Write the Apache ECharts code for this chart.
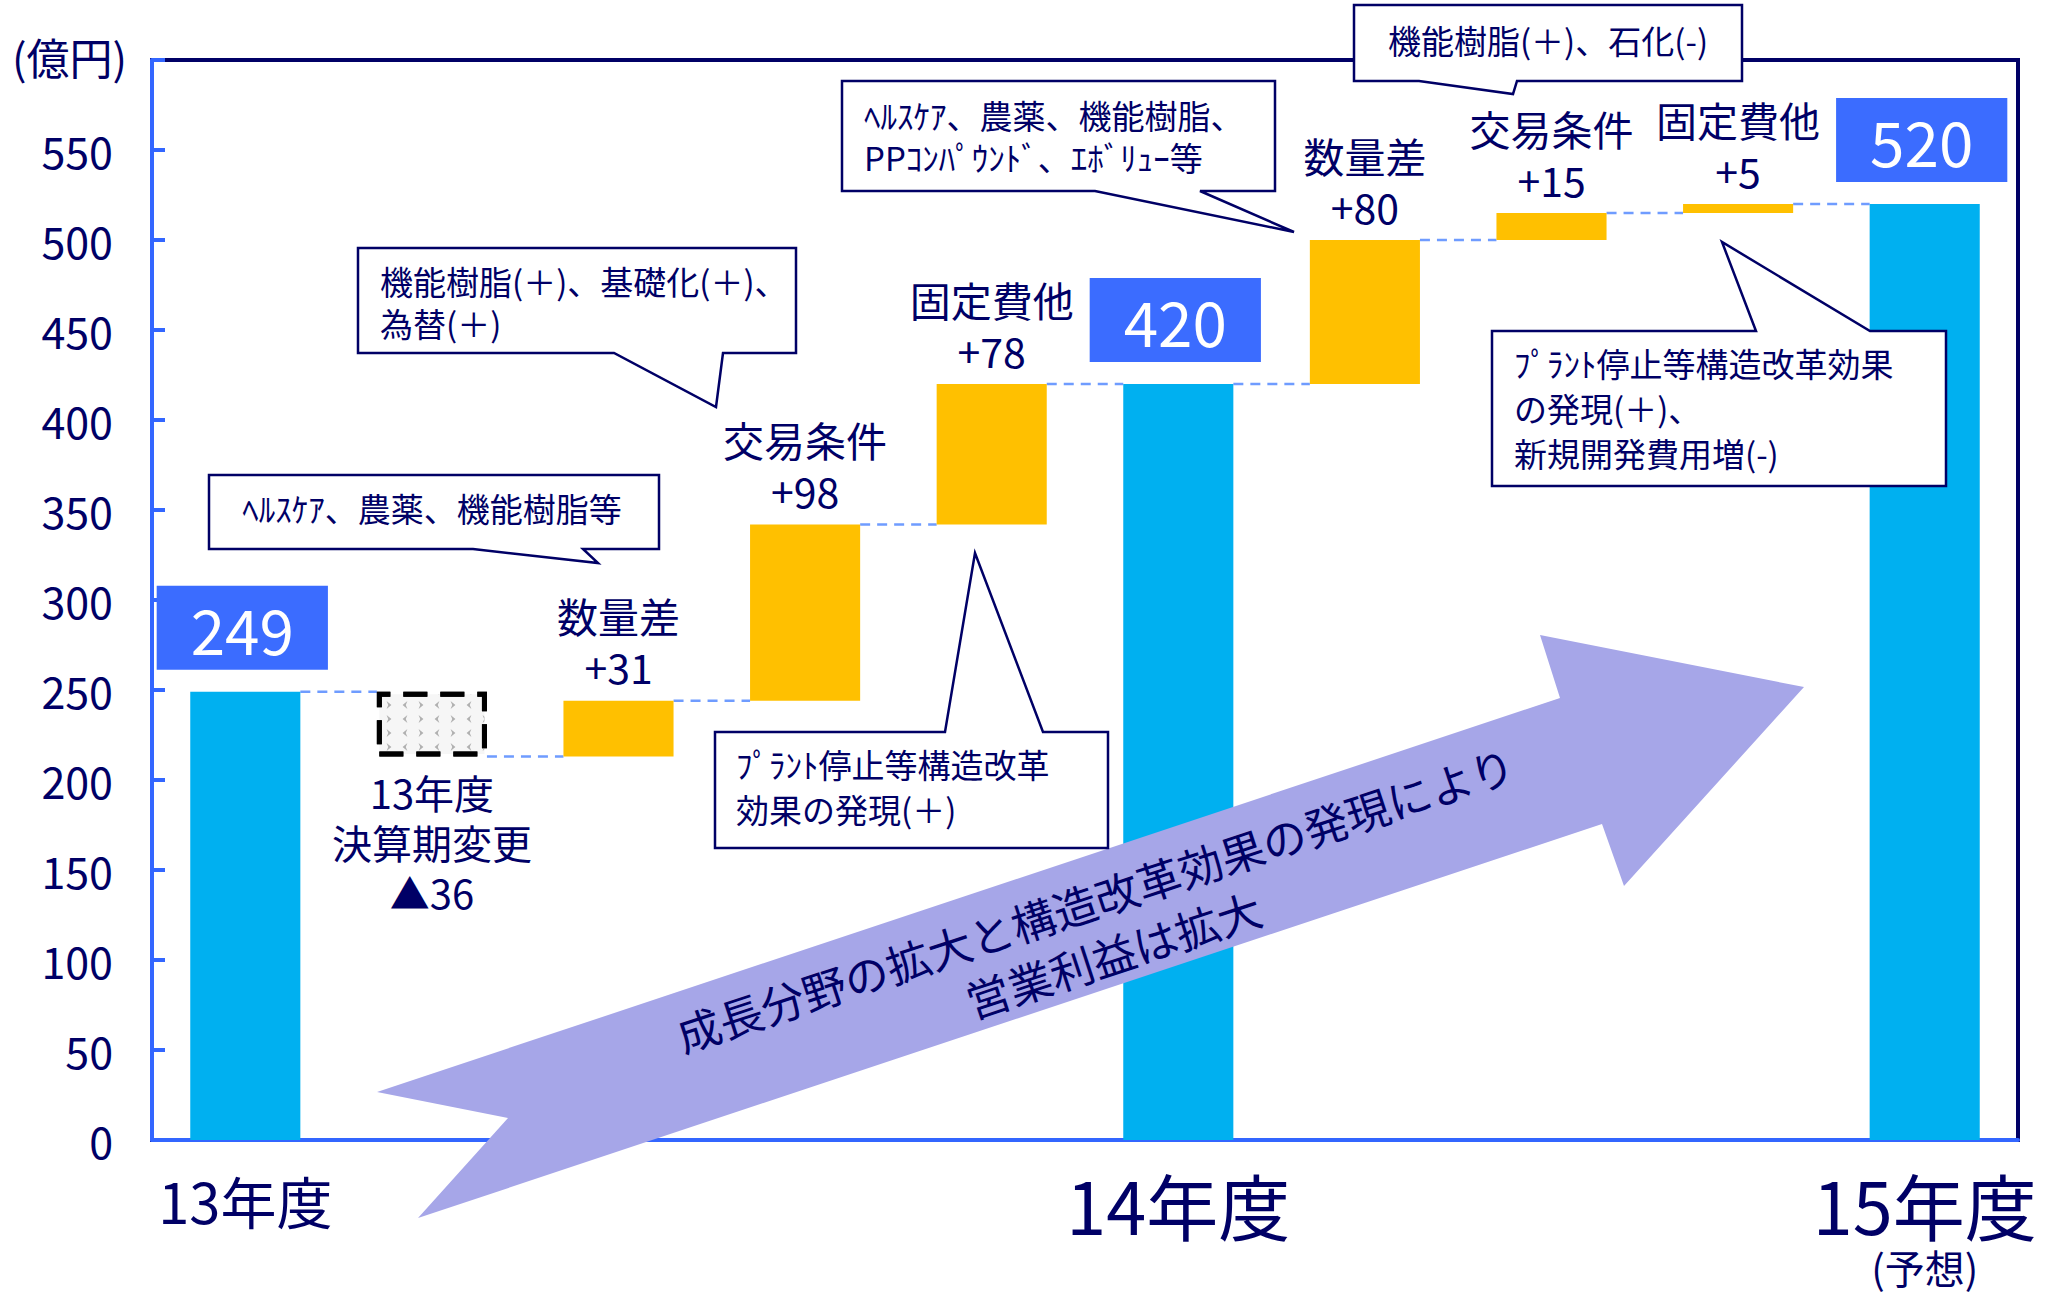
<!DOCTYPE html>
<html><head><meta charset="utf-8">
<script src="https://cdn.jsdelivr.net/npm/echarts@6/dist/echarts.min.js"></script>
<style>html,body{margin:0;padding:0;background:#fff;}#c{width:2047px;height:1296px;}</style>
</head><body><div id="c"></div>
<script>
// ---------- data ----------
const categories = ['13年度', '決算期変更', '数量差14', '交易条件14', '固定費他14', '14年度', '数量差15', '交易条件15', '固定費他15', '15年度'];
const stepKinds  = ['total', 'decrease', 'increase', 'increase', 'increase', 'total', 'increase', 'increase', 'increase', 'total'];
const stepValues = [249, -36, 31, 98, 78, 420, 80, 15, 5, 520];
const stepNames  = ['', '13年度\n決算期変更', '数量差', '交易条件', '固定費他', '', '数量差', '交易条件', '固定費他', ''];
const xTickLabels = ['13年度', '', '', '', '', '14年度', '', '', '', '15年度'];
const xTickNotes  = ['', '', '', '', '', '', '', '', '', '(予想)'];
const yMin = 0, yMax = 600, yStep = 50;
const yUnit = '(億円)';
const calloutTexts = [
  'ﾍﾙｽｹｱ、農薬、機能樹脂等',
  '機能樹脂(＋)、基礎化(＋)、\n為替(＋)',
  'ﾍﾙｽｹｱ、農薬、機能樹脂、\nPPｺﾝﾊﾟｳﾝﾄﾞ、ｴﾎﾞﾘｭｰ等',
  '機能樹脂(＋)、石化(-)',
  'ﾌﾟﾗﾝﾄ停止等構造改革\n効果の発現(＋)',
  'ﾌﾟﾗﾝﾄ停止等構造改革効果\nの発現(＋)、\n新規開発費用増(-)'
];
const arrowText = '成長分野の拡大と構造改革効果の発現により\n営業利益は拡大';

// ---------- derived waterfall series ----------
const baseData = [], totalData = [], incData = [], decData = [], levels = [];
let running = 0;
stepValues.forEach((v, i) => {
  const k = stepKinds[i];
  if (k === 'total') { baseData.push(0); totalData.push(v); incData.push('-'); decData.push('-'); running = v; }
  else if (k === 'increase') { baseData.push(running); incData.push(v); totalData.push('-'); decData.push('-'); running += v; }
  else { running += v; baseData.push(running); decData.push(-v); totalData.push('-'); incData.push('-'); }
  levels.push(running);
});
const connectorData = levels.slice(0, -1).map((lv, i) => [i, lv]);

// ---------- styles ----------
const FONT = '"Noto Sans CJK JP", "Noto Sans", sans-serif';
const NAVY = '#000066';
const AXIS_BLUE = '#3366FF';
const BAR_W = 0.59;

function callout(points, text, tx, ty, align, lh) {
  return [
    { type: 'polygon', z: 70, shape: { points: points },
      style: { fill: '#fff', stroke: NAVY, lineWidth: 2.5 } },
    { type: 'text', z: 71, x: tx, y: ty,
      style: { text: text, fill: NAVY, fontSize: 33, fontFamily: FONT, align: align, verticalAlign: 'middle', lineHeight: lh } }
  ];
}

const graphics = [].concat(
  [{ type: 'text', z: 5, x: 12, y: 56, style: { text: yUnit, fill: NAVY, fontSize: 43, fontFamily: FONT, align: 'left', verticalAlign: 'middle' } }],
  [{ type: 'polygon', z: 60, shape: { points: [[377,1092],[1560,698],[1540,635],[1804,687],[1624,886],[1602,824],[418,1218],[508,1118]] },
     style: { fill: '#A6A6E8' } },
   { type: 'text', z: 61, x: 1104, y: 926, rotation: 0.316,
     style: { text: arrowText, fill: NAVY, fontSize: 44, fontFamily: FONT, align: 'center', verticalAlign: 'middle', lineHeight: 58 } }],
  callout([[209,475],[659,475],[659,549],[583,549],[598,563],[473,549],[209,549]], calloutTexts[0], 432, 508, 'center', 42),
  callout([[358,248],[796,248],[796,353],[723,353],[716,407],[614,353],[358,353]], calloutTexts[1], 380, 302, 'left', 42),
  callout([[842,81],[1275,81],[1275,191],[1200,191],[1294,232],[1095,191],[842,191]], calloutTexts[2], 864, 136, 'left', 42),
  callout([[1354,5],[1742,5],[1742,81],[1517,81],[1513,94],[1419,81],[1354,81]], calloutTexts[3], 1548, 40, 'center', 42),
  callout([[715,732],[945,732],[975,553],[1043,732],[1108,732],[1108,848],[715,848]], calloutTexts[4], 736, 786, 'left', 45),
  callout([[1492,331],[1756,331],[1722,242],[1870,331],[1946,331],[1946,486],[1492,486]], calloutTexts[5], 1514, 408, 'left', 45)
);

const chart = echarts.init(document.getElementById('c'), null, { renderer: 'svg' });
chart.setOption({
  animation: false,
  backgroundColor: '#fff',
  textStyle: { fontFamily: FONT },
  grid: { left: 152, right: 29, top: 60, bottom: 156, show: true, borderColor: NAVY, borderWidth: 4, backgroundColor: 'transparent' },
  xAxis: {
    type: 'category', data: categories,
    axisLine: { lineStyle: { color: AXIS_BLUE, width: 4 } },
    axisTick: { show: false },
    axisLabel: {
      interval: 0, margin: 27, color: NAVY, fontFamily: FONT,
      formatter: (v, idx) => {
        const t = xTickLabels[idx];
        if (!t) return '';
        const main = idx === 0 ? '{a|' + t + '}' : '{b|' + t + '}';
        return xTickNotes[idx] ? main + '\n{c|' + xTickNotes[idx] + '}' : main;
      },
      rich: {
        a: { fontSize: 56, lineHeight: 64, color: NAVY, fontFamily: FONT },
        b: { fontSize: 72, lineHeight: 72, color: NAVY, fontFamily: FONT },
        c: { fontSize: 40, lineHeight: 56, color: NAVY, fontFamily: FONT }
      }
    },
    splitLine: { show: false }
  },
  yAxis: {
    type: 'value', min: yMin, max: yMax, interval: yStep,
    axisLine: { show: true, lineStyle: { color: AXIS_BLUE, width: 4 } },
    axisTick: { show: true, inside: true, length: 13, lineStyle: { color: AXIS_BLUE, width: 4 } },
    axisLabel: { margin: 39, color: NAVY, fontSize: 43, fontFamily: FONT, formatter: v => (v >= yMax ? '' : String(v)) },
    splitLine: { show: false }
  },
  series: [
    { type: 'custom', z: 1, silent: true, data: connectorData, encode: { x: 0, y: 1 },
      renderItem: (params, api) => {
        const i = api.value(0), lv = api.value(1);
        const bw = api.size([1, 0])[0] * BAR_W;
        const p1 = api.coord([i, lv]), p2 = api.coord([i + 1, lv]);
        return { type: 'line', shape: { x1: p1[0] + bw / 2, y1: p1[1], x2: p2[0] - bw / 2, y2: p2[1] },
                 style: { stroke: '#6F9CFF', lineWidth: 2.5, lineDash: [10, 7] } };
      } },
    { type: 'bar', stack: 'w', barWidth: BAR_W * 100 + '%', silent: true, data: baseData,
      itemStyle: { color: 'rgba(0,0,0,0)' }, label: { show: false } },
    { type: 'bar', stack: 'w', data: totalData, z: 3,
      itemStyle: { color: '#00B0F0' },
      label: { show: true, position: 'top', distance: 22, color: '#fff', fontSize: 62, lineHeight: 62, fontFamily: FONT,
               backgroundColor: '#3B6CFF', padding: [11, 34, 11, 34], offset: [-3, 0], formatter: p => String(p.value) } },
    { type: 'bar', stack: 'w', data: incData, z: 3,
      itemStyle: { color: '#FFC000' },
      label: { show: true, position: 'top', distance: 9, color: NAVY, fontSize: 41, lineHeight: 51, fontFamily: FONT,
               formatter: p => stepNames[p.dataIndex] + '\n+' + p.value } },
    { type: 'bar', stack: 'w', data: decData, z: 3,
      itemStyle: { color: '#F6F6F6', borderColor: '#000', borderWidth: 5, borderType: [24, 13],
        decal: { symbol: ['path://M0 0L6 5L0 10L2 5Z', 'path://M6 0L0 5L6 10L4 5Z'], symbolSize: 0.8, color: '#B0B0B0',
                 dashArrayX: [[10, 6]], dashArrayY: [10, 4], rotation: 0 } },
      label: { show: true, position: 'bottom', distance: 10, color: NAVY, fontSize: 40, lineHeight: 50, fontFamily: FONT,
               formatter: p => stepNames[p.dataIndex] + '\n▲' + p.value } }
  ],
  graphic: { elements: graphics }
});
</script>
</body></html>
